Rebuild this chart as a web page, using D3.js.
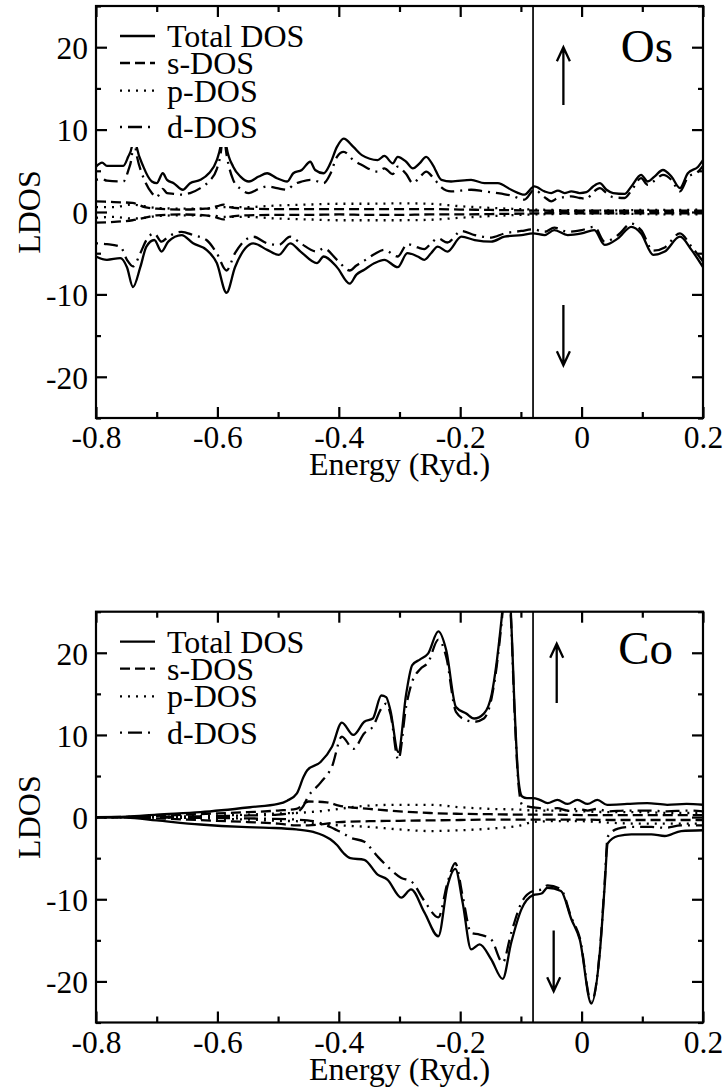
<!DOCTYPE html>
<html>
<head>
<meta charset="utf-8">
<script src="https://cdn.jsdelivr.net/npm/d3@7"></script>
<style>
  body { margin: 0; background: #fff; }
  svg text { font-family: "Liberation Serif", "Times New Roman", serif; fill: #000; }
</style>
</head>
<body>
<svg id="chart" width="728" height="1091"></svg>
<script>
// ---- values (energy in Ryd., LDOS in states/Ryd.) ----

const xTicks = [-0.8, -0.6, -0.4, -0.2, 0, 0.2]
const xMinor = [-0.7, -0.5, -0.3, -0.1, 0.1]
const yTicks = [-20, -10, 0, 10, 20]
const yMinor = [-25, -15, -5, 5, 15, 25]
const legendNames = ['Total DOS', 's-DOS', 'p-DOS', 'd-DOS']
const fermiE = -0.08

// Os, spin up
const osUpE = [
  -0.800, -0.790, -0.782, -0.755, -0.747, -0.741, -0.738, -0.733, -0.722, -0.708,
  -0.700, -0.690, -0.683, -0.672, -0.657, -0.645, -0.628, -0.614, -0.601, -0.595,
  -0.590, -0.585, -0.574, -0.562, -0.548, -0.532, -0.518, -0.502, -0.485, -0.475,
  -0.461, -0.447, -0.439, -0.425, -0.414, -0.403, -0.392, -0.376, -0.362, -0.336,
  -0.325, -0.311, -0.303, -0.289, -0.278, -0.267, -0.256, -0.245, -0.231, -0.215,
  -0.182, -0.160, -0.138, -0.116, -0.094, -0.078, -0.061, -0.050, -0.039, -0.028,
  -0.017, -0.003, 0.008, 0.019, 0.030, 0.041, 0.052, 0.071, 0.082, 0.098,
  0.109, 0.120, 0.134, 0.148, 0.162, 0.175, 0.192, 0.200]
const osUpTotal = [
  5.5, 6.0, 5.6, 5.6, 6.7, 7.9, 10.0, 7.9, 5.5, 3.7,
  3.5, 4.7, 3.9, 3.5, 2.7, 3.5, 3.9, 4.7, 6.3, 7.9,
  10.5, 7.9, 5.5, 4.3, 3.7, 4.3, 4.7, 4.1, 3.7, 4.7,
  5.1, 6.1, 5.1, 4.7, 5.9, 7.9, 8.9, 7.9, 6.9, 6.3,
  6.8, 5.9, 6.7, 6.1, 5.3, 5.9, 6.7, 5.7, 3.9, 3.7,
  3.9, 3.5, 3.5, 2.7, 2.1, 3.1, 2.5, 2.3, 2.6, 2.3,
  2.5, 2.3, 2.4, 3.1, 3.5, 2.7, 2.3, 2.2, 3.1, 4.5,
  3.7, 4.3, 5.1, 4.3, 2.9, 4.7, 5.5, 6.3]
const osUpD = [
  3.9, 4.0, 3.8, 3.7, 5.0, 6.8, 9.0, 6.9, 4.2, 2.3,
  1.8, 2.8, 2.3, 2.2, 2.1, 2.3, 2.9, 3.7, 5.2, 6.9,
  9.5, 7.0, 3.9, 2.8, 2.3, 2.8, 3.1, 2.9, 2.7, 3.3,
  3.7, 3.9, 3.8, 3.5, 4.6, 6.7, 7.3, 6.3, 5.7, 4.9,
  5.3, 4.6, 5.5, 4.6, 3.5, 4.2, 4.9, 4.2, 3.0, 2.5,
  2.7, 2.5, 2.3, 2.0, 1.5, 2.7, 1.8, 1.3, 1.7, 1.8,
  1.9, 1.7, 1.6, 2.4, 2.9, 2.3, 1.8, 1.7, 2.6, 4.1,
  3.3, 3.8, 4.5, 3.9, 2.5, 4.2, 4.9, 5.6]

// Os, spin down
const osDnE = [
  -0.800, -0.782, -0.760, -0.749, -0.739, -0.727, -0.717, -0.704, -0.692, -0.681,
  -0.659, -0.640, -0.618, -0.601, -0.585, -0.571, -0.554, -0.541, -0.518, -0.499,
  -0.480, -0.463, -0.436, -0.425, -0.403, -0.382, -0.371, -0.358, -0.341, -0.325,
  -0.303, -0.287, -0.270, -0.259, -0.248, -0.237, -0.221, -0.198, -0.176, -0.149,
  -0.127, -0.099, -0.080, -0.061, -0.045, -0.023, 0.000, 0.021, 0.038, 0.060,
  0.082, 0.098, 0.118, 0.137, 0.162, 0.181, 0.200]
const osDnTotal = [
  -5.4, -5.8, -5.6, -6.7, -9.1, -6.7, -4.2, -3.4, -4.8, -3.6,
  -2.8, -3.8, -4.6, -6.2, -9.8, -6.7, -4.4, -3.8, -4.6, -5.2,
  -3.8, -4.8, -6.2, -5.4, -6.7, -8.7, -7.6, -7.0, -6.2, -5.8,
  -6.7, -5.0, -5.4, -5.8, -5.0, -4.2, -4.8, -3.0, -3.4, -3.6,
  -3.0, -2.8, -2.6, -2.8, -2.2, -2.8, -2.6, -2.2, -4.0, -3.2,
  -1.8, -2.6, -5.2, -4.8, -3.0, -4.6, -6.7]
const osDnD = [
  -3.8, -3.9, -4.2, -5.8, -6.6, -5.0, -3.4, -2.6, -3.6, -3.0,
  -2.4, -2.8, -3.4, -5.0, -7.1, -5.0, -3.4, -3.0, -3.8, -4.0,
  -3.0, -3.8, -4.8, -4.4, -5.8, -7.1, -6.5, -5.9, -5.1, -4.6,
  -5.4, -3.9, -4.3, -4.5, -3.8, -3.2, -3.7, -2.3, -2.8, -3.1,
  -2.6, -2.3, -2.1, -2.4, -1.9, -2.4, -2.2, -1.8, -3.6, -2.8,
  -1.4, -2.2, -4.7, -4.3, -2.6, -4.2, -6.0]

// Os, s and p parts (coarser)
const osSpE = [
  -0.80, -0.77, -0.74, -0.72, -0.70, -0.66, -0.62, -0.60, -0.59, -0.58,
  -0.55, -0.50, -0.45, -0.40, -0.35, -0.30, -0.25, -0.20, -0.15, -0.10,
  -0.05, 0.00, 0.05, 0.10, 0.15, 0.20]
const osUpS = [
  1.3, 1.2, 1.1, 0.6, 0.4, 0.3, 0.4, 0.7, 0.9, 0.6,
  0.4, 0.35, 0.35, 0.35, 0.35, 0.35, 0.35, 0.3, 0.25, 0.2,
  0.15, 0.15, 0.15, 0.15, 0.15, 0.15]
const osUpP = [
  0.6, 0.6, 0.9, 0.7, 0.5, 0.4, 0.4, 0.5, 0.6, 0.6,
  0.6, 0.8, 0.9, 1.0, 1.0, 1.05, 1.0, 0.7, 0.5, 0.35,
  0.25, 0.2, 0.2, 0.25, 0.25, 0.3]
const osDnS = [
  -1.3, -1.2, -1.0, -0.7, -0.4, -0.3, -0.4, -0.7, -0.9, -0.6,
  -0.4, -0.35, -0.35, -0.3, -0.35, -0.35, -0.3, -0.3, -0.25, -0.2,
  -0.15, -0.15, -0.15, -0.15, -0.15, -0.15]
const osDnP = [
  -0.7, -0.6, -0.8, -0.7, -0.5, -0.4, -0.45, -0.5, -0.6, -0.6,
  -0.6, -0.8, -0.9, -1.0, -1.0, -1.0, -0.95, -0.7, -0.5, -0.35,
  -0.25, -0.2, -0.2, -0.25, -0.3, -0.3]

// Co, spin up
const coUpE = [
  -0.800, -0.750, -0.700, -0.628, -0.546, -0.500, -0.485, -0.469, -0.458, -0.452,
  -0.430, -0.411, -0.395, -0.376, -0.358, -0.344, -0.330, -0.322, -0.315, -0.302,
  -0.289, -0.279, -0.266, -0.253, -0.236, -0.223, -0.207, -0.190, -0.177, -0.161,
  -0.148, -0.140, -0.132, -0.124, -0.117, -0.110, -0.104, -0.098, -0.090, -0.080,
  -0.069, -0.056, -0.040, -0.023, -0.007, 0.010, 0.026, 0.042, 0.075, 0.108,
  0.141, 0.173, 0.200]
const coUpTotal = [
  0.0, 0.05, 0.3, 0.6, 1.2, 1.6, 2.0, 2.9, 4.9, 5.7,
  6.7, 8.6, 11.5, 10.0, 11.6, 12.0, 14.8, 14.6, 13.0, 7.9,
  15.0, 18.5, 19.2, 19.9, 22.6, 20.3, 13.4, 12.6, 12.0, 12.6,
  15.0, 18.8, 24.0, 30.0, 25.5, 12.6, 4.5, 2.5, 2.3, 2.3,
  2.1, 1.7, 2.1, 1.6, 2.1, 1.6, 2.1, 1.5, 1.6, 1.7,
  1.5, 1.6, 1.5]
const coUpD = [
  0.0, 0.0, 0.05, 0.1, 0.2, 0.3, 0.4, 0.6, 1.4, 2.3,
  4.2, 6.2, 9.8, 8.3, 10.2, 11.0, 13.2, 13.8, 12.6, 7.0,
  13.5, 16.5, 18.0, 18.8, 21.6, 19.5, 12.8, 11.8, 11.6, 12.0,
  14.6, 18.3, 23.5, 29.5, 25.0, 12.0, 4.0, 1.5, 1.3, 1.2,
  1.1, 0.9, 1.1, 0.8, 1.0, 0.8, 1.0, 0.7, 0.8, 0.8,
  0.7, 0.8, 0.7]

// Co, spin down
const coDnE = [
  -0.800, -0.750, -0.700, -0.628, -0.560, -0.515, -0.470, -0.442, -0.414, -0.403,
  -0.392, -0.381, -0.358, -0.336, -0.320, -0.297, -0.281, -0.259, -0.236, -0.221,
  -0.208, -0.196, -0.182, -0.168, -0.149, -0.130, -0.116, -0.099, -0.080, -0.066,
  -0.056, -0.034, -0.017, -0.003, 0.016, 0.030, 0.038, 0.043, 0.060, 0.082,
  0.115, 0.137, 0.164, 0.200]
const coDnTotal = [
  0.0, -0.05, -0.4, -0.9, -1.2, -1.3, -1.5, -1.8, -2.7, -3.4,
  -4.4, -5.0, -5.2, -7.0, -7.6, -9.8, -8.8, -11.6, -14.5, -8.4,
  -6.3, -10.4, -16.1, -15.5, -17.3, -19.7, -15.3, -11.2, -9.5, -9.3,
  -8.6, -9.0, -12.4, -14.9, -22.7, -16.5, -8.4, -3.2, -2.3, -2.1,
  -2.1, -2.3, -1.7, -1.6]
const coDnD = [
  0.0, 0.0, -0.05, -0.1, -0.15, -0.2, -0.3, -0.5, -1.2, -1.6,
  -2.0, -2.5, -3.0, -4.8, -6.0, -7.4, -7.8, -10.2, -12.2, -8.0,
  -5.6, -9.6, -14.1, -14.3, -14.9, -17.7, -14.1, -10.4, -9.0, -8.8,
  -8.3, -8.8, -12.2, -14.7, -22.5, -16.3, -8.0, -2.4, -1.4, -1.2,
  -1.2, -1.3, -1.0, -1.0]

// Co, s and p parts (coarser)
const coSpE = [
  -0.80, -0.75, -0.70, -0.65, -0.60, -0.55, -0.50, -0.47, -0.45, -0.42,
  -0.40, -0.35, -0.30, -0.25, -0.20, -0.15, -0.10, -0.08, -0.05, 0.00,
  0.05, 0.10, 0.15, 0.20]
const coUpS = [
  0.0, 0.02, 0.15, 0.3, 0.45, 0.6, 0.8, 1.0, 1.9, 1.8,
  1.4, 1.0, 0.7, 0.5, 0.4, 0.35, 0.3, 0.3, 0.3, 0.25,
  0.25, 0.25, 0.25, 0.25]
const coUpP = [
  0.0, 0.01, 0.05, 0.1, 0.2, 0.3, 0.45, 0.5, 0.6, 0.8,
  1.0, 1.4, 1.5, 1.5, 1.2, 1.0, 0.9, 0.8, 0.8, 0.7,
  0.6, 0.6, 0.5, 0.5]
const coDnS = [
  0.0, -0.02, -0.15, -0.3, -0.45, -0.6, -0.8, -1.0, -1.0, -0.8,
  -0.6, -0.5, -0.45, -0.4, -0.35, -0.3, -0.3, -0.3, -0.3, -0.3,
  -0.35, -0.35, -0.35, -0.35]
const coDnP = [
  0.0, -0.01, -0.05, -0.1, -0.2, -0.3, -0.45, -0.5, -0.7, -0.9,
  -1.0, -1.2, -1.5, -1.7, -1.6, -1.4, -1.0, -0.6, -0.5, -0.5,
  -0.7, -0.8, -0.8, -0.8]

// ---- drawing ----

const svg = d3.select('#chart')
const x = d3.scaleLinear().domain([-0.8, 0.2]).range([96, 703])
const fmt = d => String(+d.toFixed(1))   // plain hyphen minus, like the original

// dash patterns for the four kinds of curve
const dash = { total: null, s: '10,5', p: '2,6', d: '2,6,14,6' }
const kinds = ['total', 's', 'p', 'd']
const lw = 2.3

const panels = [
  {
    name: 'Os', top: 6, bottom: 418, nameBaseline: 62,
    series: [
      [osSpE, osUpS, 's'], [osSpE, osUpP, 'p'], [osSpE, osDnS, 's'], [osSpE, osDnP, 'p'],
      [osUpE, osUpD, 'd'], [osDnE, osDnD, 'd'],
      [osUpE, osUpTotal, 'total'], [osDnE, osDnTotal, 'total']
    ],
    arrows: [[-0.03, 13.0, 20.0], [-0.03, -11.3, -18.6]]
  },
  {
    name: 'Co', top: 611.7, bottom: 1022.5, nameBaseline: 664,
    series: [
      [coSpE, coUpS, 's'], [coSpE, coUpP, 'p'], [coSpE, coDnS, 's'], [coSpE, coDnP, 'p'],
      [coUpE, coUpD, 'd'], [coDnE, coDnD, 'd'],
      [coUpE, coUpTotal, 'total'], [coDnE, coDnTotal, 'total']
    ],
    arrows: [[-0.041, 13.9, 21.1], [-0.046, -13.8, -21.2]]
  }
]

panels.forEach((p, i) => {
  const y = d3.scaleLinear().domain([-25, 25]).range([p.bottom, p.top])
  const g = svg.append('g')

  g.append('clipPath').attr('id', 'clip' + i)
    .append('rect')
    .attr('x', x.range()[0]).attr('y', p.top)
    .attr('width', x.range()[1] - x.range()[0]).attr('height', p.bottom - p.top)

  const line = d3.line()
    .x(d => x(d[0]))
    .y(d => y(d[1]))
    .curve(d3.curveMonotoneX)

  g.append('g').attr('clip-path', `url(#clip${i})`)
    .selectAll('path')
    .data(p.series)
    .join('path')
    .attr('d', s => line(d3.zip(s[0], s[1])))
    .attr('fill', 'none')
    .attr('stroke', '#000')
    .attr('stroke-width', lw)
    .attr('stroke-linejoin', 'round')
    .attr('stroke-dasharray', s => dash[s[2]])

  // Fermi level
  g.append('line')
    .attr('x1', x(fermiE)).attr('x2', x(fermiE))
    .attr('y1', p.top).attr('y2', p.bottom)
    .attr('stroke', '#000').attr('stroke-width', 1.7)

  // legend (opaque box, hides the curves behind it)
  const lg = g.append('g')
  lg.append('rect')
    .attr('x', 112).attr('y', p.top + 8)
    .attr('width', 200).attr('height', 133)
    .attr('fill', '#fff')
  const rowBase = [41, 68, 95.7, 132]
  legendNames.forEach((name, k) => {
    const by = p.top + rowBase[k]
    lg.append('line')
      .attr('x1', 120).attr('x2', 155)
      .attr('y1', by - 11).attr('y2', by - 11)
      .attr('stroke', '#000').attr('stroke-width', lw)
      .attr('stroke-dasharray', dash[kinds[k]])
    lg.append('text')
      .attr('x', 167).attr('y', by)
      .attr('font-size', 32)
      .text(name)
  })

  // axes: ticks point inward on all four sides
  const tidy = a => {
    a.select('.domain').remove()
    a.selectAll('line').attr('stroke-width', 2.2)
  }
  g.append('g').attr('transform', `translate(0,${p.bottom})`)
    .call(d3.axisBottom(x).tickValues(xMinor).tickSize(-6).tickFormat(''))
    .call(tidy)
  g.append('g').attr('transform', `translate(0,${p.bottom})`)
    .call(d3.axisBottom(x).tickValues(xTicks).tickSize(-11).tickFormat(fmt))
    .call(tidy)
    .call(a => a.selectAll('text').attr('y', 30).attr('dy', null).attr('font-size', 31.5))
  g.append('g').attr('transform', `translate(0,${p.top})`)
    .call(d3.axisTop(x).tickValues(xMinor).tickSize(-6).tickFormat(''))
    .call(tidy)
  g.append('g').attr('transform', `translate(0,${p.top})`)
    .call(d3.axisTop(x).tickValues(xTicks).tickSize(-11).tickFormat(''))
    .call(tidy)

  g.append('g').attr('transform', `translate(${x.range()[0]},0)`)
    .call(d3.axisLeft(y).tickValues(yMinor).tickSize(-5).tickFormat(''))
    .call(tidy)
  g.append('g').attr('transform', `translate(${x.range()[0]},0)`)
    .call(d3.axisLeft(y).tickValues(yTicks).tickSize(-11).tickFormat(fmt))
    .call(tidy)
    .call(a => a.selectAll('text').attr('x', -8).attr('dy', '0.36em').attr('font-size', 31.5))
  g.append('g').attr('transform', `translate(${x.range()[1]},0)`)
    .call(d3.axisRight(y).tickValues(yMinor).tickSize(-5).tickFormat(''))
    .call(tidy)
  g.append('g').attr('transform', `translate(${x.range()[1]},0)`)
    .call(d3.axisRight(y).tickValues(yTicks).tickSize(-11).tickFormat(''))
    .call(tidy)

  // frame
  g.append('rect')
    .attr('x', x.range()[0]).attr('y', p.top)
    .attr('width', x.range()[1] - x.range()[0]).attr('height', p.bottom - p.top)
    .attr('fill', 'none').attr('stroke', '#000').attr('stroke-width', 2.2)

  // spin arrows
  p.arrows.forEach(([e, v0, v1]) => {
    const ax = x(e), y0 = y(v0), y1 = y(v1)
    const dir = y1 < y0 ? 1 : -1
    g.append('path')
      .attr('d', `M${ax},${y0}L${ax},${y1}M${ax - 6.5},${y1 + dir * 14}L${ax},${y1}L${ax + 6.5},${y1 + dir * 14}`)
      .attr('fill', 'none').attr('stroke', '#000').attr('stroke-width', lw)
  })

  // element name
  g.append('text')
    .attr('x', 673).attr('y', p.nameBaseline)
    .attr('text-anchor', 'end').attr('font-size', 47)
    .text(p.name)

  // axis titles
  g.append('text')
    .attr('x', (x.range()[0] + x.range()[1]) / 2).attr('y', p.bottom + 57)
    .attr('text-anchor', 'middle').attr('font-size', 32)
    .text('Energy (Ryd.)')
  g.append('text')
    .attr('transform', `translate(40,${y(0)}) rotate(-90)`)
    .attr('text-anchor', 'middle').attr('font-size', 32)
    .text('LDOS')
})
</script>
</body>
</html>
